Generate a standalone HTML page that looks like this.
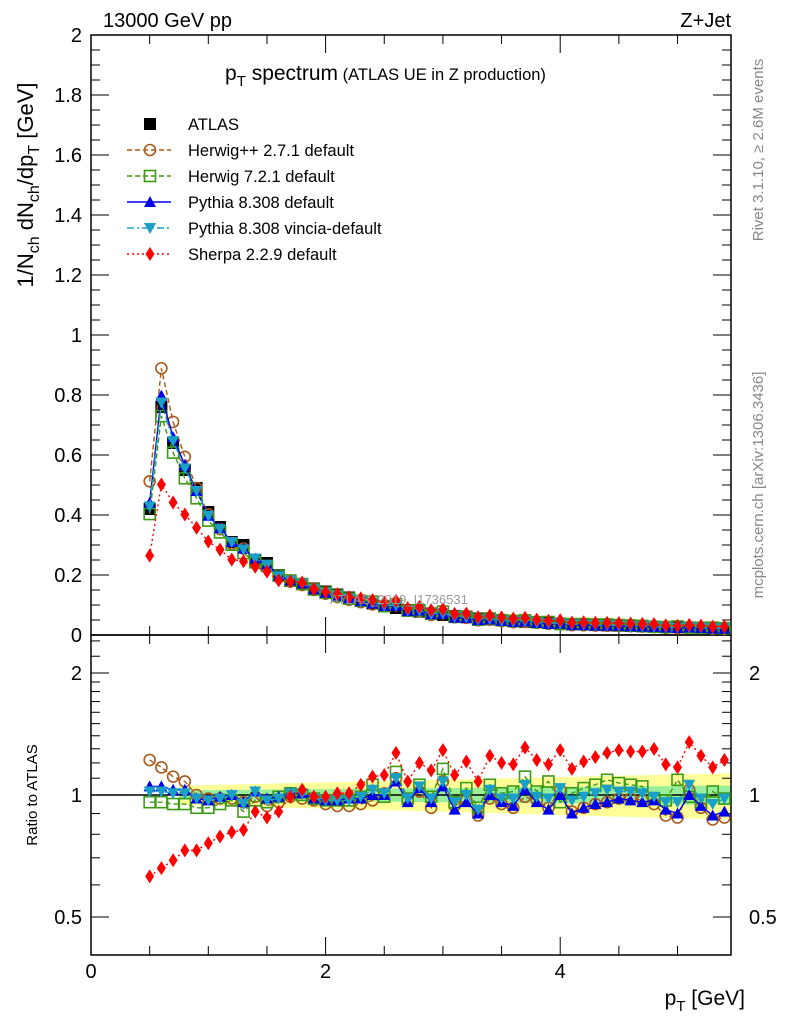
<!DOCTYPE html>
<html><head><meta charset="utf-8"><style>
body{margin:0;background:#fff}
svg{font-family:"Liberation Sans",sans-serif}
</style></head><body>
<svg id="c" width="786" height="1024" xmlns="http://www.w3.org/2000/svg"></svg>
<script>
const xs=[];for(let i=0;i<50;i++)xs.push(+(0.5+0.1*i).toFixed(1));
const atlas=[0.42,0.76,0.64,0.55,0.49,0.41,0.36,0.31,0.30,0.25,0.24,0.20,0.18,0.17,0.155,0.145,0.135,0.125,0.115,0.105,0.097,0.09,0.083,0.078,0.072,0.067,0.063,0.059,0.055,0.052,0.049,0.046,0.044,0.042,0.040,0.038,0.036,0.035,0.033,0.032,0.031,0.030,0.029,0.028,0.027,0.026,0.025,0.025,0.024,0.023];
const rHpp=[1.22,1.17,1.11,1.08,1.00,0.98,0.98,0.98,0.96,0.99,0.94,0.96,0.99,0.98,0.97,0.95,0.94,0.94,0.95,0.97,1.01,1.10,0.97,1.02,0.93,1.08,0.94,0.97,0.89,0.98,0.95,0.93,0.99,0.97,0.93,1.03,0.91,0.93,0.95,0.96,0.98,0.98,0.97,0.95,0.89,0.88,1.03,0.93,0.87,0.88];
const rH7=[0.96,0.96,0.95,0.95,0.93,0.93,0.95,0.97,0.91,0.97,0.96,0.99,1.01,1.00,0.98,0.97,0.97,0.97,0.99,1.06,0.99,1.14,0.98,1.06,0.99,1.16,0.96,1.04,0.93,1.06,1.01,1.02,1.11,1.02,1.08,0.96,1.01,1.04,1.06,1.09,1.07,1.06,1.05,0.98,0.97,1.09,0.99,0.96,1.02,0.98];
const rPy=[1.05,1.05,1.03,1.03,0.98,0.97,0.99,1.00,0.96,1.02,0.98,0.99,1.01,1.01,0.98,0.97,0.97,0.98,0.98,1.00,1.00,1.08,0.96,1.04,0.96,1.05,0.92,0.96,0.90,1.00,0.96,0.94,1.03,0.96,0.92,1.00,0.90,0.93,0.95,0.96,0.98,0.97,0.96,0.97,0.92,0.90,1.00,0.94,0.89,0.91];
const rVin=[1.02,1.02,1.01,1.01,0.98,0.97,0.98,1.00,0.95,1.02,0.97,0.98,1.01,1.01,0.98,0.97,0.97,0.97,0.99,1.03,1.01,1.10,0.98,1.05,0.98,1.08,0.96,1.00,0.92,1.03,0.98,0.98,1.06,0.99,0.98,1.04,0.97,0.99,1.01,1.03,1.02,1.02,1.01,0.99,0.96,0.96,1.06,0.98,0.95,0.98];
const rSh=[0.63,0.66,0.69,0.73,0.73,0.76,0.79,0.81,0.82,0.91,0.88,0.91,0.99,1.03,0.99,0.99,1.01,1.01,1.06,1.11,1.12,1.27,1.08,1.20,1.15,1.29,1.12,1.21,1.08,1.25,1.20,1.19,1.31,1.22,1.19,1.29,1.16,1.21,1.24,1.27,1.29,1.28,1.28,1.30,1.19,1.17,1.35,1.25,1.17,1.22];
const yTicks=[0,0.2,0.4,0.6,0.8,1,1.2,1.4,1.6,1.8,2];
const rTicks=[0.5,1,2];
const xTicks=[0,2,4];

const L=91,R=731,T=35,M=635,B=955;
const X=v=>L+v*117.3, Y=v=>M-v*300, RY=r=>795-122*Math.log2(r);
const svg=document.getElementById('c');const NS='http://www.w3.org/2000/svg';
function mk(t,a,p){const e=document.createElementNS(NS,t);for(const k in a)e.setAttribute(k,a[k]);(p||svg).appendChild(e);return e;}
function txt(s,x,y,a){const e=mk('text',Object.assign({x:x,y:y,'font-size':20},a||{}));e.textContent=s;return e;}
// bands
const yb=xs.map((x,i)=>0.05+0.08*i/49), gb=xs.map((x,i)=>0.025+0.03*i/49);
function band(err,col,name){let up=xs.map((x,i)=>X(x-0.05)+','+RY(1+err[i])+' '+X(x+0.05)+','+RY(1+err[i]));let dn=xs.map((x,i)=>X(x+0.05)+','+RY(1-err[i])+' '+X(x-0.05)+','+RY(1-err[i])).reverse();
const p=mk('polygon',{points:up.slice(3).join(' ')+' '+dn.slice(0,dn.length-3).join(' '),fill:col});
}
band(yb,'#ffff99','ratio-total-uncertainty-band');band(gb,'#99ee99','ratio-stat-uncertainty-band');
mk('line',{x1:L,x2:R,y1:795,y2:795,stroke:'#000','stroke-width':1.5});
// frames
mk('rect',{x:L,y:T,width:R-L,height:M-T,fill:'none',stroke:'#000','stroke-width':1.5});
mk('rect',{x:L,y:M,width:R-L,height:B-M,fill:'none',stroke:'#000','stroke-width':1.5});
// y ticks main
yTicks.forEach(v=>{mk('line',{x1:L,x2:L+18,y1:Y(v),y2:Y(v),stroke:'#000'});mk('line',{x1:R,x2:R-18,y1:Y(v),y2:Y(v),stroke:'#000'});
const t=txt(String(v),82,Y(v)+7,{'text-anchor':'end'});});
for(let v=0.05;v<2;v+=0.05){mk('line',{x1:L,x2:L+9,y1:Y(v),y2:Y(v),stroke:'#000'});mk('line',{x1:R,x2:R-9,y1:Y(v),y2:Y(v),stroke:'#000'});}
// ratio ticks
rTicks.forEach(v=>{mk('line',{x1:L,x2:L+18,y1:RY(v),y2:RY(v),stroke:'#000'});mk('line',{x1:R,x2:R-18,y1:RY(v),y2:RY(v),stroke:'#000'});
const t=txt(String(v),82,RY(v)+7,{'text-anchor':'end'});
const t2=txt(String(v),749,RY(v)+7);});
[0.6,0.7,0.8,0.9,1.1,1.2,1.3,1.4,1.5,1.6,1.7,1.8,1.9,2.2,2.4].forEach(v=>{mk('line',{x1:L,x2:L+9,y1:RY(v),y2:RY(v),stroke:'#000'});mk('line',{x1:R,x2:R-9,y1:RY(v),y2:RY(v),stroke:'#000'});});
// x ticks
for(let v=0;v<=5.4;v+=0.5){const big=Math.abs(v%2)<1e-6;const l=big?18:9;
[M,B].forEach(y0=>mk('line',{x1:X(v),x2:X(v),y1:y0,y2:y0-l,stroke:'#000'}));mk('line',{x1:X(v),x2:X(v),y1:T,y2:T+l,stroke:'#000'});mk('line',{x1:X(v),x2:X(v),y1:M,y2:M+l,stroke:'#000'});}
xTicks.forEach(v=>{const t=txt(String(v),X(v),978,{'text-anchor':'middle'});});
// markers
function marker(kind,x,y,col,g){const s=6;
if(kind==='sq')mk('rect',{x:x-s,y:y-s,width:2*s,height:2*s,fill:col},g);
else if(kind==='osq')mk('rect',{x:x-5.5,y:y-5.5,width:11,height:11,fill:'none',stroke:col,'stroke-width':1.6},g);
else if(kind==='oc')mk('circle',{cx:x,cy:y,r:5.5,fill:'none',stroke:col,'stroke-width':1.6},g);
else if(kind==='tu')mk('polygon',{points:`${x},${y-6} ${x-6},${y+5} ${x+6},${y+5}`,fill:col},g);
else if(kind==='td')mk('polygon',{points:`${x},${y+6} ${x-6},${y-5} ${x+6},${y-5}`,fill:col},g);
else if(kind==='di')mk('polygon',{points:`${x},${y-7} ${x-4.5},${y} ${x},${y+7} ${x+4.5},${y}`,fill:col},g);}
const series=[
{n:'herwig-pp',r:rHpp,c:'#a8591a',k:'oc',d:'5,3'},
{n:'herwig7',r:rH7,c:'#3c9a14',k:'osq',d:'5,3'},
{n:'pythia-default',r:rPy,c:'#0000e6',k:'tu',d:''},
{n:'pythia-vincia',r:rVin,c:'#1aa0c8',k:'td',d:'7,3,2,3'},
{n:'sherpa',r:rSh,c:'#ff0000',k:'di',d:'2,3'}];
// ATLAS main
const ga=mk('g',{});
xs.forEach((x,i)=>marker('sq',X(x),Y(atlas[i]),'#000',ga));
series.forEach(s=>{
const g=mk('g',{});
mk('polyline',{points:xs.map((x,i)=>X(x)+','+Y(atlas[i]*s.r[i])).join(' '),fill:'none',stroke:s.c,'stroke-width':1.4,'stroke-dasharray':s.d},g);
xs.forEach((x,i)=>marker(s.k,X(x),Y(atlas[i]*s.r[i]),s.c,g));
const g2=mk('g',{});
mk('polyline',{points:xs.map((x,i)=>X(x)+','+RY(s.r[i])).join(' '),fill:'none',stroke:s.c,'stroke-width':1.4,'stroke-dasharray':s.d},g2);
xs.forEach((x,i)=>marker(s.k,X(x),RY(s.r[i]),s.c,g2));});
// watermark
const w=txt('ATLAS_2019_I1736531',330,604,{'font-size':13,fill:'#999'});
// legend
const leg=[['ATLAS','#000','sq',''],['Herwig++ 2.7.1 default','#a8591a','oc','5,3'],['Herwig 7.2.1 default','#3c9a14','osq','5,3'],['Pythia 8.308 default','#0000e6','tu',''],['Pythia 8.308 vincia-default','#1aa0c8','td','7,3,2,3'],['Sherpa 2.2.9 default','#ff0000','di','2,3']];
leg.forEach((l,i)=>{const y=124+26*i;const g=mk('g',{});
if(i>0)mk('line',{x1:127,x2:171,y1:y,y2:y,stroke:l[1],'stroke-width':1.4,'stroke-dasharray':l[3]},g);
marker(l[2],150,y,l[1],g);const t=txt(l[0],188,y+6,{'font-size':16.5});g.appendChild(t);});
// labels
const a=txt('13000 GeV pp',103,27,{'font-size':20});
const b=txt('Z+Jet',731,27,{'font-size':20,'text-anchor':'end'});
const tt=mk('text',{x:225,y:80,'font-size':21});tt.innerHTML='p<tspan font-size="15" dy="6">T</tspan><tspan dy="-6"> spectrum</tspan><tspan font-size="16.5"> (ATLAS UE in Z production)</tspan>';
const yt=mk('text',{transform:'translate(33,185) rotate(-90)','font-size':22,'text-anchor':'middle'});yt.innerHTML='1/N<tspan font-size="16" dy="6">ch</tspan><tspan dy="-6"> dN</tspan><tspan font-size="16" dy="6">ch</tspan><tspan dy="-6">/dp</tspan><tspan font-size="16" dy="6">T</tspan><tspan dy="-6"> [GeV]</tspan>';
const rt=txt('Ratio to ATLAS',0,0,{'font-size':15,transform:'translate(37,795) rotate(-90)','text-anchor':'middle'});
const xt=mk('text',{x:745,y:1005,'font-size':21,'text-anchor':'end'});xt.innerHTML='p<tspan font-size="15" dy="6">T</tspan><tspan dy="-6"> [GeV]</tspan>';
const r1=txt('Rivet 3.1.10, \u2265 2.6M events',0,0,{'font-size':15,fill:'#888',transform:'translate(763,150) rotate(-90)','text-anchor':'middle'});
const r2=txt('mcplots.cern.ch [arXiv:1306.3436]',0,0,{'font-size':15,fill:'#888',transform:'translate(763,485) rotate(-90)','text-anchor':'middle'});
</script>
</body></html>
